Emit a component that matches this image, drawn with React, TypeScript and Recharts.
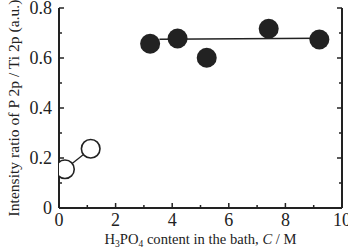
import React from 'react';
import { ComposedChart, Scatter, XAxis, YAxis } from 'recharts';

const lowConc = [
  { x: 0.21, y: 0.155 },
  { x: 1.12, y: 0.237 },
];
const highConc = [
  { x: 3.22, y: 0.657 },
  { x: 4.19, y: 0.678 },
  { x: 5.22, y: 0.601 },
  { x: 7.41, y: 0.717 },
  { x: 9.2, y: 0.674 },
];
const fitLine = [
  { x: 3.55, y: 0.675 },
  { x: 9.2, y: 0.679 },
];
const xTicks = [0, 1, 2, 3, 4, 5, 6, 7, 8, 9, 10];
const xLabels = ['0', '2', '4', '6', '8', '10'];
const yTicks = [0, 0.1, 0.2, 0.3, 0.4, 0.5, 0.6, 0.7, 0.8];
const yLabels = ['0', '0.2', '0.4', '0.6', '0.8'];

const INK = '#222';
const FONT = '"Liberation Serif", "DejaVu Serif", serif';

const fmtY = (v: number) => (Math.abs(v) < 1e-9 ? '0' : (Math.round(v * 10) / 10).toFixed(1));

const BottomTick = (props: any) => {
  const { x, y, payload } = props;
  const v = payload.value;
  const lbl = String(v);
  const major = xLabels.includes(lbl);
  return (
    <g>
      <line x1={x} x2={x} y1={y} y2={y - (major ? 5 : 3)} stroke={INK} strokeWidth={1.5} />
      {major && (
        <text x={x} y={y + 18} textAnchor="middle" fontSize={18} fill={INK} fontFamily={FONT}>
          {lbl}
        </text>
      )}
    </g>
  );
};

const TopTick = (props: any) => {
  const { x, y, payload } = props;
  const major = xLabels.includes(String(payload.value));
  return <line x1={x} x2={x} y1={y} y2={y + (major ? 5 : 3)} stroke={INK} strokeWidth={1.5} />;
};

const LeftTick = (props: any) => {
  const { x, y, payload } = props;
  const lbl = fmtY(payload.value);
  const major = yLabels.includes(lbl);
  return (
    <g>
      <line x1={x} x2={x + (major ? 5 : 3)} y1={y} y2={y} stroke={INK} strokeWidth={1.5} />
      {major && (
        <text x={x - 7} y={y} dy="0.35em" textAnchor="end" fontSize={18} fill={INK} fontFamily={FONT}>
          {lbl}
        </text>
      )}
    </g>
  );
};

const RightTick = (props: any) => {
  const { x, y, payload } = props;
  const major = yLabels.includes(fmtY(payload.value));
  return <line x1={x} x2={x - (major ? 5 : 3)} y1={y} y2={y} stroke={INK} strokeWidth={1.5} />;
};

const FilledDot = (props: any) => <circle cx={props.cx} cy={props.cy} r={10} fill={INK} />;
const OpenDot = (props: any) => (
  <circle cx={props.cx} cy={props.cy} r={9.3} fill="#fff" stroke={INK} strokeWidth={1.6} />
);
const NoDot = () => <g />;

const XLabel = (props: any) => {
  const vb = props.viewBox || {};
  const cx = vb.x + vb.width / 2;
  return (
    <text x={cx} y={244} textAnchor="middle" fontSize={14.6} fill={INK} fontFamily={FONT}>
      H<tspan fontSize={9.5} dy={2.5}>3</tspan>
      <tspan dy={-2.5}>PO</tspan>
      <tspan fontSize={9.5} dy={2.5}>4</tspan>
      <tspan dy={-2.5}> content in the bath, </tspan>
      <tspan fontStyle="italic">C</tspan>
      <tspan> / M</tspan>
    </text>
  );
};

const YLabel = (props: any) => {
  const vb = props.viewBox || {};
  const cy = vb.y + vb.height / 2;
  return (
    <text
      x={19}
      y={cy}
      transform={`rotate(-90 19 ${cy})`}
      textAnchor="middle"
      fontSize={15.6}
      fill={INK}
      fontFamily={FONT}
    >
      Intensity ratio of P 2p / Ti 2p (a.u.)
    </text>
  );
};

export default function App() {
  return (
    <div style={{ position: 'absolute', left: 0, top: 0, background: '#fff' }}>
      <ComposedChart width={348} height={248} margin={{ top: 8, right: 0, bottom: 0, left: 0 }}>
        <XAxis
          xAxisId={0}
          type="number"
          dataKey="x"
          domain={[0, 10]}
          ticks={xTicks}
          interval={0}
          height={40}
          tickSize={0}
          tickMargin={0}
          tickLine={false}
          axisLine={{ stroke: INK, strokeWidth: 2 }}
          tick={<BottomTick />}
          label={<XLabel />}
          allowDataOverflow
        />
        <XAxis
          xAxisId="top"
          orientation="top"
          type="number"
          dataKey="x"
          domain={[0, 10]}
          ticks={xTicks}
          interval={0}
          height={0}
          tickSize={0}
          tickMargin={0}
          tickLine={false}
          axisLine={{ stroke: INK, strokeWidth: 2 }}
          tick={<TopTick />}
          allowDataOverflow
        />
        <YAxis
          yAxisId={0}
          type="number"
          dataKey="y"
          domain={[0, 0.8]}
          ticks={yTicks}
          interval={0}
          width={59}
          tickSize={0}
          tickMargin={0}
          tickLine={false}
          axisLine={{ stroke: INK, strokeWidth: 2 }}
          tick={<LeftTick />}
          label={<YLabel />}
          allowDataOverflow
        />
        <YAxis
          yAxisId="right"
          orientation="right"
          type="number"
          domain={[0, 0.8]}
          ticks={yTicks}
          interval={0}
          width={6}
          tickSize={0}
          tickMargin={0}
          tickLine={false}
          axisLine={{ stroke: INK, strokeWidth: 2 }}
          tick={<RightTick />}
          allowDataOverflow
        />
        <Scatter
          data={fitLine}
          line={{ stroke: INK, strokeWidth: 1.3 }}
          shape={<NoDot />}
          isAnimationActive={false}
        />
        <Scatter
          data={lowConc}
          line={{ stroke: INK, strokeWidth: 1.3 }}
          shape={<OpenDot />}
          isAnimationActive={false}
        />
        <Scatter data={highConc} shape={<FilledDot />} isAnimationActive={false} />
      </ComposedChart>
    </div>
  );
}
